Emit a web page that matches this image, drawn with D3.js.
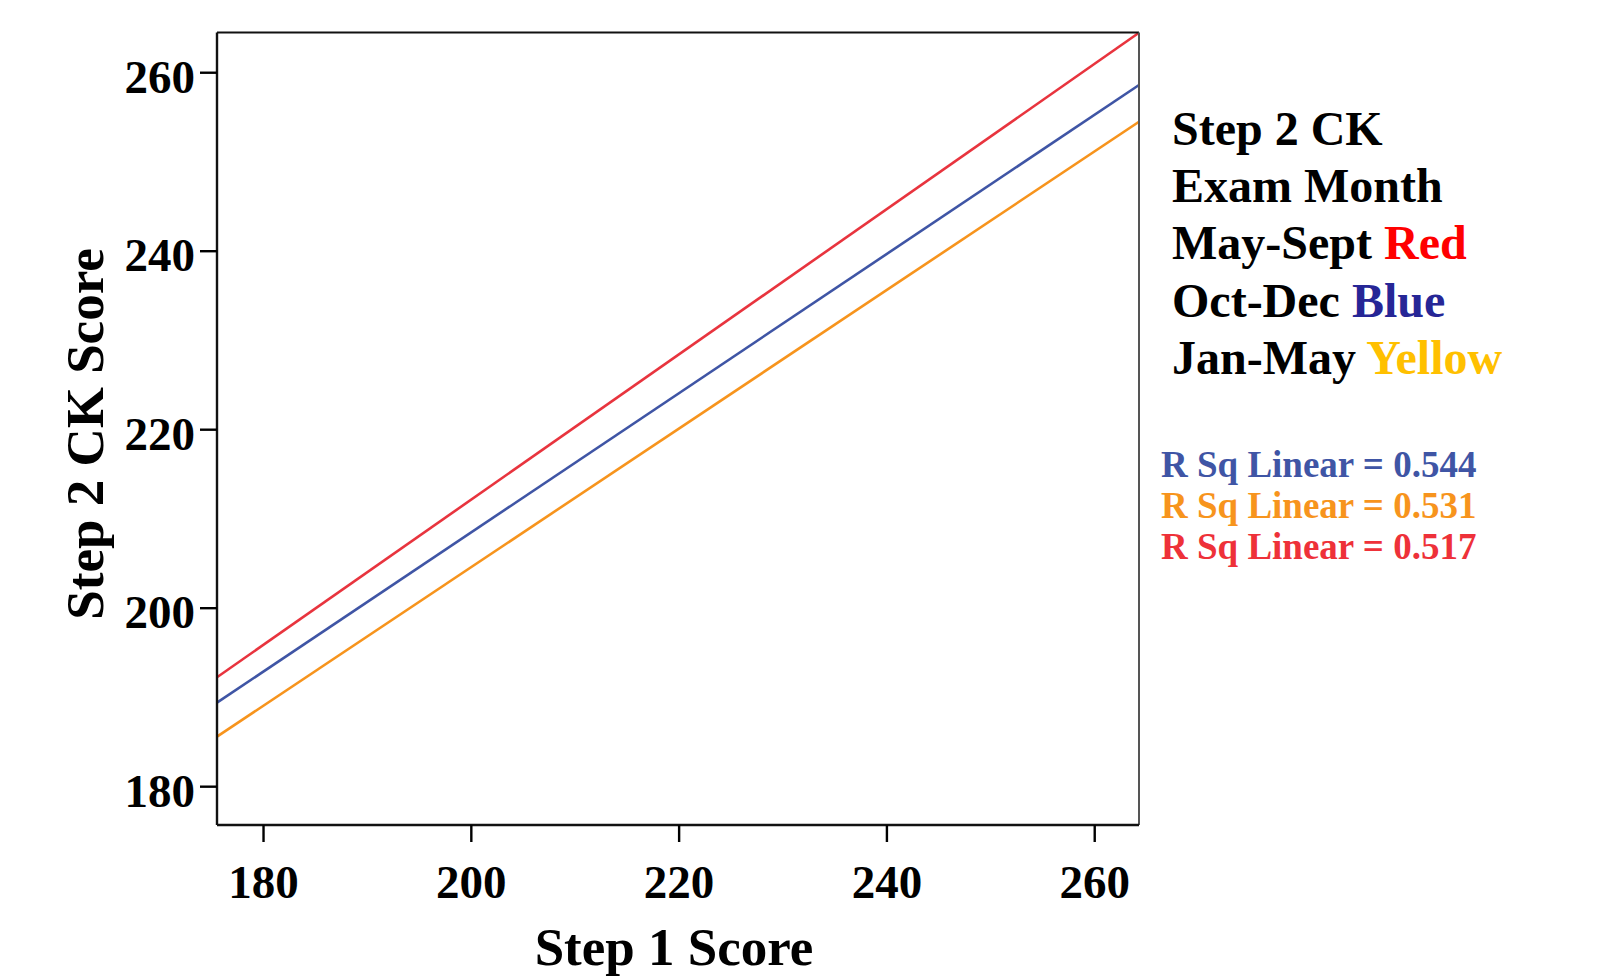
<!DOCTYPE html>
<html>
<head>
<meta charset="utf-8">
<script src="https://cdn.jsdelivr.net/npm/d3@7/dist/d3.min.js"></script>
<style>
  html, body { margin: 0; padding: 0; background: #fff; }
  svg { display: block; }
  text { font-family: "Liberation Serif", "Times New Roman", serif; font-weight: bold; }
</style>
</head>
<body>
<svg id="chart" width="1598" height="979"></svg>
<script>
// ---- data ----
const xDomain = [175.57, 264.31];
const yDomain = [175.65, 264.44];
const xTicks = [180, 200, 220, 240, 260];
const yTicks = [180, 200, 220, 240, 260];
const lineX = [175.57, 264.31];           // Step 1 Score endpoints of fit lines
const seriesNames = ["May-Sept", "Oct-Dec", "Jan-May"];
const seriesColors = ["#E8343E", "#3F55A5", "#F7941D"];
const redFit = [192.2, 264.42];
const blueFit = [189.36, 258.57];
const orangeFit = [185.55, 254.45];
const legendLines = [
  { text: "Step 2 CK", word: "", color: "#000" },
  { text: "Exam Month", word: "", color: "#000" },
  { text: "May-Sept ", word: "Red", color: "#FF0000" },
  { text: "Oct-Dec ", word: "Blue", color: "#262696" },
  { text: "Jan-May ", word: "Yellow", color: "#FFC000" }
];
const rsqLabels = ["R Sq Linear = 0.544", "R Sq Linear = 0.531", "R Sq Linear = 0.517"];
const rsqColors = ["#3F55A5", "#F7941D", "#EE3139"];
const xTitle = "Step 1 Score";
const yTitle = "Step 2 CK Score";

// ---- layout ----
const svg = d3.select("#chart");
const L = 217, T = 32.6, R = 1139, B = 825;

const x = d3.scaleLinear().domain(xDomain).range([L, R]);
const y = d3.scaleLinear().domain(yDomain).range([B, T]);

svg.append("defs").append("clipPath").attr("id", "plotclip")
  .append("rect").attr("x", L).attr("y", T).attr("width", R - L).attr("height", B - T);

// fit lines
const fits = [redFit, blueFit, orangeFit];
const lineGen = d3.line().x(d => x(d[0])).y(d => y(d[1]));
const g = svg.append("g").attr("clip-path", "url(#plotclip)");
fits.forEach((f, i) => {
  g.append("path")
    .datum(lineX.map((xv, j) => [xv, f[j]]))
    .attr("d", lineGen)
    .attr("fill", "none")
    .attr("stroke", seriesColors[i])
    .attr("stroke-width", 2.6);
});

// frame
svg.append("line").attr("x1", L).attr("x2", R).attr("y1", T).attr("y2", T).attr("stroke", "#111").attr("stroke-width", 2);
svg.append("line").attr("x1", R).attr("x2", R).attr("y1", T).attr("y2", B).attr("stroke", "#555").attr("stroke-width", 2);
svg.append("line").attr("x1", L).attr("x2", R).attr("y1", B).attr("y2", B).attr("stroke", "#111").attr("stroke-width", 2.4);
svg.append("line").attr("x1", L).attr("x2", L).attr("y1", T).attr("y2", B).attr("stroke", "#111").attr("stroke-width", 2.4);

// axes
const yAxis = d3.axisLeft(y).tickValues(yTicks).tickSize(17).tickPadding(5).tickFormat(d3.format("d"));
const ya = svg.append("g").attr("transform", `translate(${L},0)`).call(yAxis);
ya.select(".domain").remove();
ya.selectAll(".tick line").attr("stroke", "#000").attr("stroke-width", 2.4);
ya.selectAll(".tick text").attr("font-size", 47).attr("fill", "#000")
  .attr("font-family", "Liberation Serif").attr("font-weight", "bold")
  .attr("dy", null).attr("y", 20).attr("x", -22);

const xAxis = d3.axisBottom(x).tickValues(xTicks).tickSize(17).tickPadding(5).tickFormat(d3.format("d"));
const xa = svg.append("g").attr("transform", `translate(0,${B})`).call(xAxis);
xa.select(".domain").remove();
xa.selectAll(".tick line").attr("stroke", "#000").attr("stroke-width", 2.4);
xa.selectAll(".tick text").attr("font-size", 47).attr("fill", "#000")
  .attr("font-family", "Liberation Serif").attr("font-weight", "bold")
  .attr("dy", null).attr("y", 73);

// titles
svg.append("text").attr("x", 674).attr("y", 965).attr("text-anchor", "middle")
  .attr("font-size", 53).attr("fill", "#000").text(xTitle);
svg.append("text").attr("transform", "translate(103,434) rotate(-90)").attr("text-anchor", "middle")
  .attr("font-size", 53).attr("fill", "#000").text(yTitle);

// legend
const legBase = [145, 202, 259, 316.5, 373.5];
legendLines.forEach((d, i) => {
  const t = svg.append("text").attr("x", 1172).attr("y", legBase[i]).attr("font-size", 48).attr("fill", "#000");
  t.append("tspan").text(d.text);
  if (d.word) t.append("tspan").attr("fill", d.color).text(d.word);
});

// R squared
const rsqBase = [477, 518, 558.5];
rsqLabels.forEach((s, i) => {
  svg.append("text").attr("x", 1161).attr("y", rsqBase[i]).attr("font-size", 37)
    .attr("fill", rsqColors[i]).text(s);
});
</script>
</body>
</html>
